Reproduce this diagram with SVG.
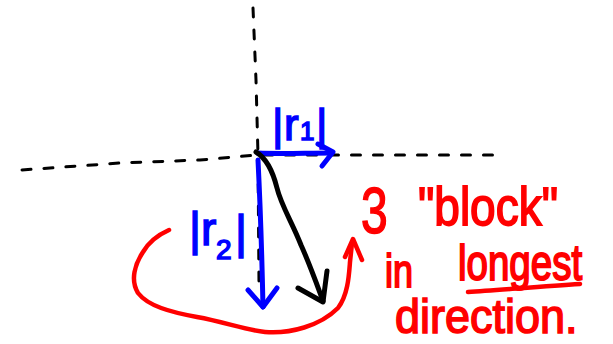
<svg xmlns="http://www.w3.org/2000/svg" width="613" height="344" viewBox="0 0 613 344">
<style>
.axis{fill:none;stroke:#000;stroke-width:3;stroke-linecap:round;stroke-dasharray:9 13}
.blue{fill:none;stroke:#0000ff;stroke-width:5;stroke-linecap:round;stroke-linejoin:round}
.black{fill:none;stroke:#000;stroke-width:5;stroke-linecap:round;stroke-linejoin:round}
.red{fill:none;stroke:#ff0000;stroke-width:4.5;stroke-linecap:round;stroke-linejoin:round}
.lblb{font-family:"Liberation Sans","DejaVu Sans",sans-serif;fill:#0000ff;stroke:#0000ff;stroke-width:1.5}
.lblr{font-family:"Liberation Sans","DejaVu Sans",sans-serif;fill:#ff0000;stroke:#ff0000;stroke-width:1.5}
</style>
<rect width="613" height="344" fill="#fff"/>
<g id="axes">
<path class="axis" d="M253,8 L256,80 L258,155 L259,285"/>
<path class="axis" d="M22,170 L120,163 L200,160 L257,155 L340,155 L495,155 L497,159"/>
</g>
<g id="connectors">
<g id="r1-vector">
<path class="blue" d="M258,153 C280,154 305,153 332,153"/>
<path class="blue" d="M318,144 L333,152 L322,166"/>
</g>
<g id="r2-vector">
<path class="blue" d="M258,160 C260,200 262,260 263,307"/>
<path class="blue" d="M248,290 L263,307 L277,288"/>
</g>
<g id="resultant">
<path class="black" d="M256,152 C266,158 273,172 277,188 C281,205 292,222 301,245 C310,265 316,282 323,301"/>
<path class="black" d="M298,288 L323,302 L327,271"/>
</g>
<g id="block-arrow">
<path class="red" d="M169,230 C160,234 150,240 143,252 C135,264 130,280 138,293 C148,306 170,312 197,317 C225,322 245,330 265,332 C290,334 320,326 338,308 C348,295 349,275 350,262 L352,243"/>
<path class="red" d="M345,257 L353,239 L362,260"/>
</g>
</g>
<g id="label-r1">
<text class="lblb" y="140" font-size="44"><tspan x="272">|</tspan><tspan x="284">r</tspan><tspan x="300" font-size="26">1</tspan><tspan x="316">|</tspan></text>
</g>
<g id="label-r2">
<text class="lblb" y="245" font-size="46"><tspan x="189">|</tspan><tspan x="201">r</tspan><tspan x="216" y="259" font-size="28">2</tspan><tspan x="235" y="248">|</tspan></text>
</g>
<g id="annotation">
<text class="lblr" transform="translate(361,233) scale(0.75,1)" font-size="64">3</text>
<text class="lblr" transform="translate(418,225) scale(1,1.18)" font-size="46">"block"</text>
<text class="lblr" transform="translate(385,287) scale(1,1.3)" font-size="36">in</text>
<text class="lblr" transform="translate(458,280) scale(1,1.3)" font-size="38.5">longest</text>
<path class="red" d="M468,292 C500,290 545,286 580,284"/>
<text class="lblr" transform="translate(395,333) scale(1,1.05)" font-size="45">direction.</text>
</g>
</svg>
